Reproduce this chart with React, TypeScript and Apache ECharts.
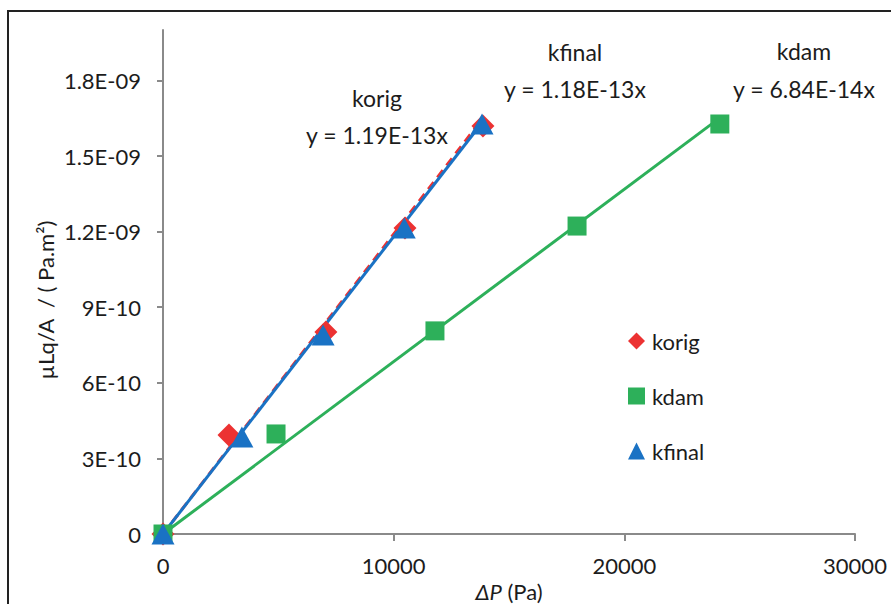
import React, { useEffect, useRef } from "react";
import * as echarts from "echarts";

// ---- data ----
const korigX = [0, 2860, 7060, 10490, 13870];
const korigY = [0, 3.93e-10, 8.02e-10, 1.214e-9, 1.619e-9];
const kdamX = [0, 4900, 11790, 17950, 24140];
const kdamY = [0, 3.97e-10, 8.06e-10, 1.222e-9, 1.627e-9];
const kfinalX = [0, 3420, 6940, 10460, 13830];
const kfinalY = [0, 3.85e-10, 7.9e-10, 1.214e-9, 1.627e-9];

const seriesNames = ["korig", "kdam", "kfinal"];
const trendSlopes = [1.19e-13, 6.84e-14, 1.18e-13];
const trendLabels = ["y = 1.19E-13x", "y = 6.84E-14x", "y = 1.18E-13x"];

const yTickValues = [0, 3e-10, 6e-10, 9e-10, 1.2e-9, 1.5e-9, 1.8e-9];
const yTickLabels = ["0", "3E-10", "6E-10", "9E-10", "1.2E-09", "1.5E-09", "1.8E-09"];
const xTickLabels = ["0", "10000", "20000", "30000"];

const RED = "#EC3232";
const GREEN = "#2DB05A";
const BLUE = "#1A72C4";
const FONT = "Lato";
const TXT = "#1c1c1c";
const AXIS = "#8a8a8a";

export default function App() {
  const ref = useRef<HTMLDivElement>(null);

  useEffect(() => {
    document.body.style.margin = "0";
    if (!ref.current) return;
    const chart = echarts.init(ref.current, undefined, { renderer: "svg" });

    const pts = (xs: number[], ys: number[]) => xs.map((x, i) => [x, ys[i]]);
    const trend = (xs: number[], slope: number) => {
      const xm = Math.max(...xs);
      return [
        [0, 0],
        [xm, slope * xm],
      ];
    };

    const option: any = {
      animation: false,
      backgroundColor: "#ffffff",
      textStyle: { fontFamily: FONT },
      grid: {
        left: 163,
        right: 36,
        top: 30,
        bottom: 70,
        containLabel: false,
        outerBoundsMode: "none",
      },
      xAxis: {
        type: "value",
        min: 0,
        max: 30000,
        interval: 10000,
        splitLine: { show: false },
        axisLine: { show: true, onZero: false, lineStyle: { color: AXIS, width: 2 } },
        axisTick: { show: true, inside: false, length: 7, lineStyle: { color: AXIS, width: 2 } },
        axisLabel: {
          margin: 20,
          fontSize: 22,
          fontFamily: FONT,
          color: TXT,
          formatter: (v: number) => xTickLabels[Math.round(v / 10000)] ?? "",
        },
        name: "{i|ΔP} (Pa)",
        nameLocation: "middle",
        nameGap: 42,
        nameTextStyle: {
          fontSize: 22,
          fontFamily: FONT,
          color: TXT,
          rich: { i: { fontStyle: "italic", fontSize: 22, fontFamily: FONT, color: TXT } },
        },
      },
      yAxis: {
        type: "value",
        min: 0,
        max: 2e-9,
        splitLine: { show: false },
        axisLine: { show: true, onZero: false, lineStyle: { color: AXIS, width: 2 } },
        axisTick: {
          show: true,
          inside: false,
          length: 6,
          customValues: yTickValues,
          lineStyle: { color: AXIS, width: 2 },
        },
        axisLabel: {
          margin: 22,
          fontSize: 22,
          fontFamily: FONT,
          color: TXT,
          customValues: yTickValues,
          formatter: (v: number) => {
            let best = 0;
            yTickValues.forEach((t, i) => {
              if (Math.abs(t - v) < Math.abs(yTickValues[best] - v)) best = i;
            });
            return yTickLabels[best];
          },
        },
      },
      legend: {
        data: seriesNames,
        orient: "vertical",
        left: 623,
        top: 325,
        itemWidth: 17,
        itemHeight: 17,
        itemGap: 33,
        textStyle: { fontSize: 22, fontFamily: FONT, color: TXT, padding: [0, 0, 0, 2] },
      },
      series: [
        {
          name: "korig trend",
          type: "line",
          data: trend(korigX, trendSlopes[0]),
          showSymbol: false,
          silent: true,
          lineStyle: { color: RED, width: 3, type: [9, 6] },
          z: 2,
        },
        {
          name: "kdam trend",
          type: "line",
          data: trend(kdamX, trendSlopes[1]),
          showSymbol: false,
          silent: true,
          lineStyle: { color: GREEN, width: 3 },
          z: 2,
        },
        {
          name: "kfinal trend",
          type: "line",
          data: trend(kfinalX, trendSlopes[2]),
          showSymbol: false,
          silent: true,
          lineStyle: { color: BLUE, width: 3 },
          z: 3,
        },
        {
          name: "korig",
          type: "scatter",
          data: pts(korigX, korigY),
          symbol: "diamond",
          symbolSize: [23, 23],
          itemStyle: { color: RED, opacity: 1 },
          z: 4,
        },
        {
          name: "kdam",
          type: "scatter",
          data: pts(kdamX, kdamY),
          symbol: "rect",
          symbolSize: [19, 19],
          itemStyle: { color: GREEN, opacity: 1 },
          z: 4,
        },
        {
          name: "kfinal",
          type: "scatter",
          data: pts(kfinalX, kfinalY),
          symbol: "triangle",
          symbolSize: [23, 21],
          itemStyle: { color: BLUE, opacity: 1 },
          z: 5,
        },
      ],
      graphic: [
        {
          type: "rect",
          silent: true,
          shape: { x: 8, y: 11, width: 950, height: 700 },
          style: { fill: "none", stroke: "#222", lineWidth: 2 },
          z: -1,
        },
        {
          type: "text",
          x: 45,
          y: 300,
          rotation: Math.PI / 2,
          style: {
            text: "µLq/A  / ( Pa.m²)",
            fill: TXT,
            fontSize: 22,
            fontFamily: FONT,
            align: "center",
            verticalAlign: "middle",
            textAlign: "center",
            textVerticalAlign: "middle",
          },
        },
        {
          type: "text",
          x: 377,
          y: 116,
          style: {
            text: seriesNames[0] + "\n" + trendLabels[0],
            fill: TXT,
            fontSize: 23,
            fontFamily: FONT,
            lineHeight: 37,
            align: "center",
            verticalAlign: "middle",
            textAlign: "center",
            textVerticalAlign: "middle",
          },
        },
        {
          type: "text",
          x: 575,
          y: 70,
          style: {
            text: seriesNames[2] + "\n" + trendLabels[2],
            fill: TXT,
            fontSize: 23,
            fontFamily: FONT,
            lineHeight: 37,
            align: "center",
            verticalAlign: "middle",
            textAlign: "center",
            textVerticalAlign: "middle",
          },
        },
        {
          type: "text",
          x: 804,
          y: 70,
          style: {
            text: seriesNames[1] + "\n" + trendLabels[1],
            fill: TXT,
            fontSize: 23,
            fontFamily: FONT,
            lineHeight: 38,
            align: "center",
            verticalAlign: "middle",
            textAlign: "center",
            textVerticalAlign: "middle",
          },
        },
      ],
    };

    chart.setOption(option);
    return () => chart.dispose();
  }, []);

  return <div ref={ref} style={{ width: 891, height: 604 }} />;
}
